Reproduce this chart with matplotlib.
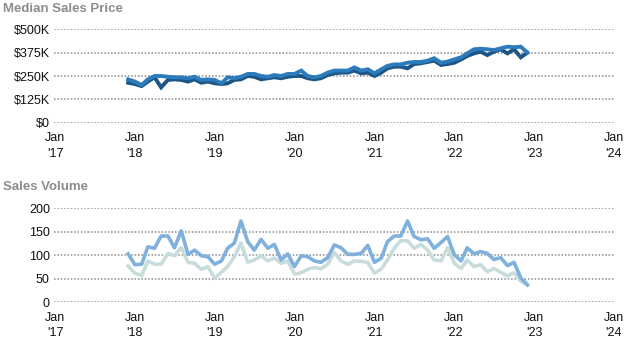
import pandas as pd
import matplotlib
matplotlib.use('Agg')
import matplotlib.pyplot as plt
import matplotlib.dates as mdates
from matplotlib.ticker import FuncFormatter

plt.rcParams['font.family'] = ['Liberation Sans', 'DejaVu Sans']

# monthly, Dec 2017 .. Dec 2022
months = pd.date_range('2017-12-01', '2022-12-01', freq='MS')

price_dark = [214, 207, 196, 220, 243, 189, 229, 232, 229, 220, 232, 214, 220,
              211, 207, 211, 229, 232, 250, 246, 232, 238, 243, 238, 246,
              250, 250, 238, 232, 238, 255, 264, 268, 268, 279, 264, 268,
              250, 268, 291, 300, 300, 291, 314, 318, 325, 332, 309, 314,
              321, 339, 357, 371, 380, 362, 380, 393, 371, 393, 350, 375]
price_blue = [232, 220, 202, 232, 250, 250, 246, 243, 243, 238, 246, 229, 232,
              229, 211, 243, 238, 246, 261, 261, 250, 246, 255, 250, 261,
              261, 279, 250, 243, 250, 268, 279, 279, 279, 296, 279, 286,
              264, 286, 304, 312, 312, 321, 325, 325, 332, 345, 321, 327,
              339, 350, 371, 393, 396, 393, 389, 398, 407, 404, 407, 375]

vol_blue = [103, 80, 81, 118, 115, 141, 141, 116, 152, 102, 111, 99, 97,
            81, 88, 115, 126, 173, 129, 111, 134, 115, 123, 90, 103,
            76, 99, 97, 88, 85, 95, 122, 116, 102, 102, 104, 121,
            85, 94, 129, 141, 141, 173, 140, 133, 135, 115, 127, 140,
            101, 88, 116, 103, 108, 104, 91, 95, 78, 85, 52, 37]
vol_light = [77, 62, 57, 88, 81, 81, 104, 99, 116, 85, 83, 70, 76,
             51, 64, 76, 97, 126, 85, 90, 99, 88, 94, 83, 88,
             60, 63, 70, 74, 71, 81, 106, 88, 81, 88, 87, 85,
             62, 71, 90, 115, 131, 131, 115, 123, 111, 90, 88, 116,
             83, 72, 90, 76, 80, 65, 72, 64, 56, 63, 45, 38]

price_ticks = [0, 125, 250, 375, 500]
vol_ticks = [0, 50, 100, 150, 200]
year_ticks = pd.date_range('2017-01-01', '2024-01-01', freq='YS')

fig = plt.figure(figsize=(6.33, 3.5), dpi=100)
ax1 = fig.add_axes([0.0853, 0.6494, 0.8863, 0.2669])
ax2 = fig.add_axes([0.0853, 0.1363, 0.8863, 0.2686])


def style_axis(ax, ticks, fmt):
    ax.set_xlim(year_ticks[0] - pd.Timedelta(days=5), year_ticks[-1] + pd.Timedelta(days=5))
    ax.set_ylim(ticks[0], ticks[-1])
    ax.set_yticks(ticks)
    ax.yaxis.set_major_formatter(FuncFormatter(fmt))
    ax.set_xticks(year_ticks)
    ax.xaxis.set_major_formatter(mdates.DateFormatter("Jan\n'%y"))
    for s in ax.spines.values():
        s.set_visible(False)
    ax.tick_params(length=0, labelsize=9, colors='#111111', pad=3)
    ax.tick_params(axis='x', pad=7)
    for lbl in ax.get_xticklabels():
        lbl.set_linespacing(1.35)
    ax.grid(axis='y', color='#8a8a8a', linestyle=(0, (1, 1.2)), linewidth=1.1)
    ax.set_axisbelow(True)
    ax.patch.set_alpha(0)


ax1.plot(months, price_dark, color='#1d5686', lw=2.8, solid_joinstyle='miter')
ax1.plot(months, price_blue, color='#2b7bbd', lw=2.8, solid_joinstyle='miter')
style_axis(ax1, price_ticks, lambda v, p: '$0' if v == 0 else f'${int(v)}K')

ax2.plot(months, vol_light, color='#c8dcdc', lw=2.6)
ax2.plot(months, vol_blue, color='#7fb1dc', lw=2.6)
style_axis(ax2, vol_ticks, lambda v, p: f'{int(v)}')

fig.text(0.004, 0.975, 'Median Sales Price', fontsize=9.5, fontweight='bold',
         color='#8c8c8c', va='center', ha='left')
fig.text(0.004, 0.465, 'Sales Volume', fontsize=9.5, fontweight='bold',
         color='#8c8c8c', va='center', ha='left')

fig.savefig('out.png', dpi=100)
